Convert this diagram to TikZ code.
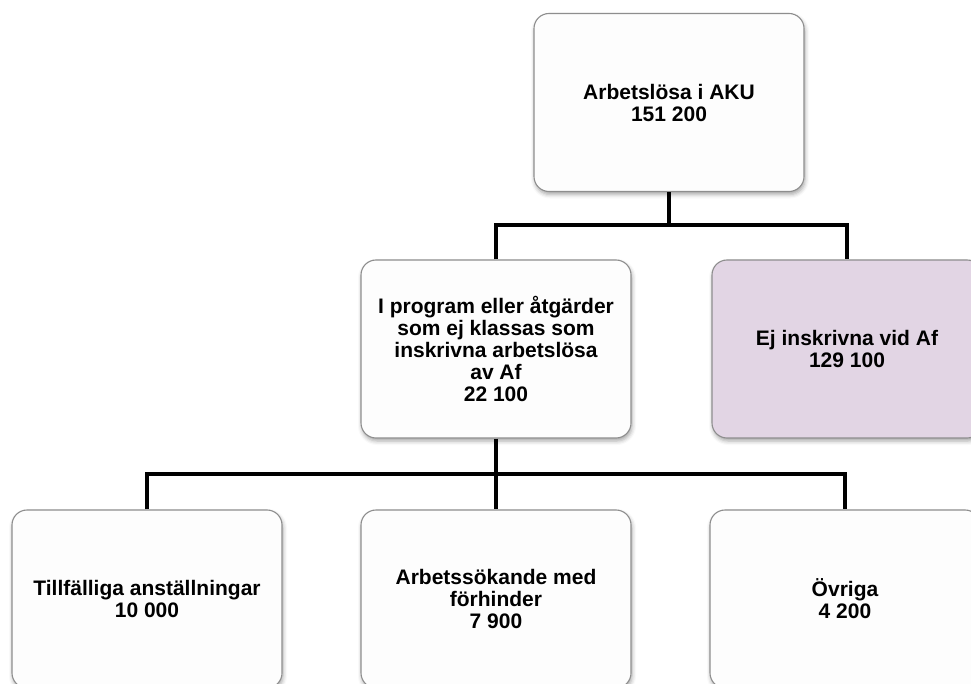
\documentclass[tikz,border=0pt]{standalone}
\usepackage{fontspec}
\setmainfont{Liberation Sans}
\usetikzlibrary{shadows.blur}
\definecolor{boxline}{HTML}{8E8E8E}
\definecolor{boxfill}{HTML}{FDFDFD}
\definecolor{lilac}{HTML}{E2D5E4}
\tikzset{
  orgbox/.style={draw=boxline, line width=1.1pt, fill=boxfill, rounded corners=15pt,
    minimum width=270pt, minimum height=178pt, align=center, inner sep=4pt,
    font=\fontsize{21}{22}\selectfont\bfseries,
    blur shadow={shadow xshift=1pt, shadow yshift=-3pt, shadow blur radius=4pt, shadow opacity=35}},
  link/.style={line width=4pt, black, line join=miter}
}
\begin{document}
\begin{tikzpicture}[x=1pt,y=-1pt]
\useasboundingbox (0,0) rectangle (971,684);
\node[orgbox] (top) at (669,102.5) {Arbetslösa i AKU\\151 200};
\node[orgbox] (midL) at (496,349) {I program eller åtgärder\\som ej klassas som\\inskrivna arbetslösa\\av Af\\22 100};
\node[orgbox, fill=lilac] (midR) at (847,349) {Ej inskrivna vid Af\\129 100};
\node[orgbox] (botL) at (147,599) {Tillfälliga anställningar\\10 000};
\node[orgbox] (botM) at (496,599) {Arbetssökande med\\förhinder\\7 900};
\node[orgbox] (botR) at (845,599) {Övriga\\4 200};
\coordinate (j1) at (669,225);
\coordinate (j2) at (496,474);
\draw[link] (top.south) -- (j1);
\draw[link] (midL.north) |- (j1) -| (midR.north);
\draw[link] (midL.south) -- (j2);
\draw[link] (botL.north) |- (j2) -| (botR.north);
\draw[link] (j2) -- (botM.north);
\end{tikzpicture}
\end{document}
